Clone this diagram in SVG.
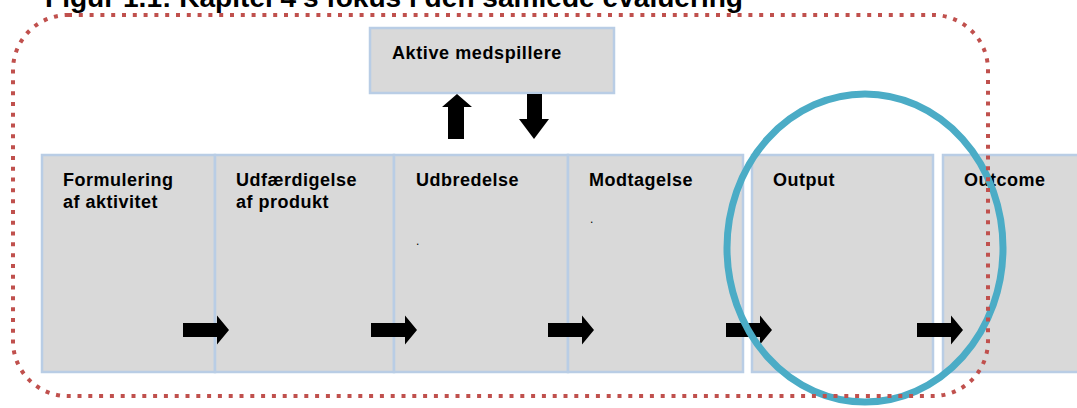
<svg xmlns="http://www.w3.org/2000/svg" xmlns:xlink="http://www.w3.org/1999/xlink" width="1077" height="408" viewBox="0 0 1077 408">
<style>
.box{fill:#d9d9d9;stroke:#b9cde5;stroke-width:2.5}
.lbl{font-family:"Liberation Sans",Arial,sans-serif;font-weight:bold;font-size:18px;letter-spacing:0.5px;fill:#000}
.dot{font-family:"Liberation Sans",Arial,sans-serif;font-size:12px;fill:#000}
.arr{fill:#000}
</style>
<defs>
<path id="rarrow" d="M0,-7 H34 V-14.5 L46,0 L34,14.5 V7 H0 Z"/>
</defs>
<rect width="1077" height="408" fill="#fff"/>
<text x="45" y="7" font-family="'Liberation Sans',Arial,sans-serif" font-weight="bold" font-size="28" textLength="698" lengthAdjust="spacingAndGlyphs">Figur 1.1: Kapitel 4's fokus i den samlede evaluering</text>
<g id="n-aktive">
<rect class="box" x="370" y="28" width="244" height="65"/>
<text class="lbl" x="392" y="59" style="letter-spacing:0.6px">Aktive medspillere</text>
</g>
<g id="n-formulering">
<rect class="box" x="42" y="155" width="173" height="217"/>
<text class="lbl" x="63" y="186">Formulering</text>
<text class="lbl" x="63" y="208">af aktivitet</text>
</g>
<g id="n-udfaerdigelse">
<rect class="box" x="215" y="155" width="179" height="217"/>
<text class="lbl" x="236" y="186">Udfærdigelse</text>
<text class="lbl" x="236" y="208">af produkt</text>
</g>
<g id="n-udbredelse">
<rect class="box" x="394" y="155" width="174" height="217"/>
<text class="lbl" x="416" y="186">Udbredelse</text>
<text class="dot" x="416" y="245">.</text>
</g>
<g id="n-modtagelse">
<rect class="box" x="568" y="155" width="175" height="217"/>
<text class="lbl" x="589" y="186">Modtagelse</text>
<text class="dot" x="590" y="223">.</text>
</g>
<g id="n-output">
<rect class="box" x="752" y="155" width="181" height="217"/>
<text class="lbl" x="773" y="186">Output</text>
</g>
<g id="n-outcome">
<rect class="box" x="943" y="155" width="150" height="217"/>
<text class="lbl" x="964" y="186">Outcome</text>
</g>
<g id="connectors" class="arr">
<path d="M448,139 V107 H442 L457,94 L472,107 H464 V139 Z"/>
<path d="M527,94 H542 V119 H549 L534,139 L519,119 H527 Z"/>
<use xlink:href="#rarrow" transform="translate(183,330)"/>
<use xlink:href="#rarrow" transform="translate(371,330)"/>
<use xlink:href="#rarrow" transform="translate(548,330)"/>
<use xlink:href="#rarrow" transform="translate(726,330)"/>
<use xlink:href="#rarrow" transform="translate(917,330)"/>
</g>
<g id="focus-ellipse">
<ellipse cx="865" cy="248" rx="138" ry="154" fill="none" stroke="#4bacc6" stroke-width="7"/>
</g>
<g id="focus-frame">
<rect x="13" y="15" width="975" height="381" rx="55" ry="55" fill="none" stroke="#c0504d" stroke-width="4" stroke-dasharray="4 6.8"/>
</g>
</svg>
